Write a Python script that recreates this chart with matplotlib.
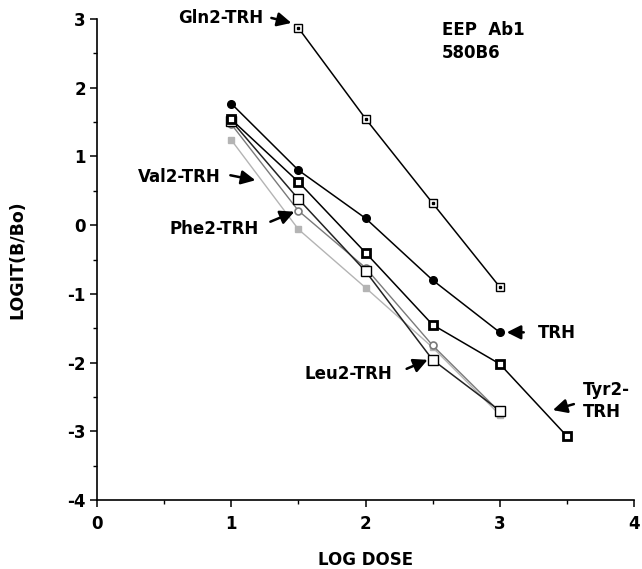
import matplotlib
matplotlib.use("Agg")
import matplotlib.pyplot as plt
from matplotlib.transforms import offset_copy

# data
dose = [1, 1.5, 2, 2.5, 3]
gln_dose = [1.5, 2, 2.5, 3]
tyr_dose = [1, 1.5, 2, 2.5, 3, 3.5]
gln = [2.87, 1.55, 0.32, -0.90]
trh = [1.77, 0.80, 0.10, -0.80, -1.56]
tyr = [1.54, 0.63, -0.40, -1.45, -2.02, -3.07]
leu = [1.52, 0.38, -0.67, -1.96, -2.70]
phe = [1.47, 0.21, -0.62, -1.75, -2.72]
val = [1.24, -0.06, -0.91, -1.78, -2.76]

xticks = [0, 1, 2, 3, 4]
yticks = [-4, -3, -2, -1, 0, 1, 2, 3]

fig = plt.figure(figsize=(6.42, 5.69), dpi=100)
ax = fig.add_axes([97/642, 1-500/569, 537/642, 481/569])

# curves
ax.plot(dose, val, color="#b4b4b4", lw=1.0, marker="s", ms=5, mfc="#b4b4b4", mec="#b4b4b4")
ax.plot(dose, phe, color="#7a7a7a", lw=1.0, marker="o", ms=5, mfc="white", mec="#7a7a7a", mew=1.2)
ax.plot(dose, leu, color="#222222", lw=1.1, marker="s", ms=6.5, mfc="white", mec="black", mew=1.0)
ax.plot(tyr_dose, tyr, color="black", lw=1.1, marker="s", ms=5.5, mfc="white", mec="black", mew=2.0)
ax.plot(dose, trh, color="black", lw=1.1, marker="o", ms=5.5, mfc="black", mec="black")
ax.plot(gln_dose, gln, color="black", lw=1.1, marker="s", ms=6, mfc="white", mec="black", mew=1.0)
ax.plot(gln_dose, gln, ls="none", marker="s", ms=1.5, color="black")

ax.set_xlim(0, 4)
ax.set_ylim(-4, 3)
ax.set_xticks(xticks)
ax.set_yticks(yticks)
ax.set_xticks([0.5, 1.5, 2.5, 3.5], minor=True)
ax.set_yticks([-3.5, -2.5, -1.5, -0.5, 0.5, 1.5, 2.5], minor=True)
ax.set_xticklabels([str(t) for t in xticks], fontsize=12, fontweight="bold")
ax.set_yticklabels([str(t) for t in yticks], fontsize=12, fontweight="bold")
ax.tick_params(which="major", length=5, width=1.1, direction="out")
ax.tick_params(axis="x", which="major", pad=6)
ax.tick_params(axis="y", which="major", pad=3)
ax.tick_params(which="minor", length=3, width=1.0, direction="out")
for s in ["top", "right"]:
    ax.spines[s].set_visible(False)
for s in ["left", "bottom"]:
    ax.spines[s].set_linewidth(1.2)

ax.set_xlabel("LOG DOSE", fontsize=12, fontweight="bold")
ax.xaxis.set_label_coords(0.5, -0.105)
ax.set_ylabel("LOGIT(B/Bo)", fontsize=12.5, fontweight="bold")
ax.yaxis.set_label_coords(-0.132, 0.5)

ax.text(0.642, 0.977, "EEP  Ab1", transform=ax.transAxes, fontsize=12, fontweight="bold", va="center")
ax.text(0.642, 0.929, "580B6", transform=ax.transAxes, fontsize=12, fontweight="bold", va="center")


def shifted(dx, dy):
    # pixel offsets, y measured downward like on the picture
    return offset_copy(ax.transData, fig=fig, x=dx, y=-dy, units="dots")


def note(x, y, s, tx, ty, ha, tail, tip):
    ax.text(x, y, s, transform=shifted(tx, ty), ha=ha, va="center",
            fontsize=12, fontweight="bold", linespacing=1.3)
    ax.annotate("", xy=(x, y), xycoords=shifted(*tip),
                xytext=(x, y), textcoords=shifted(*tail),
                arrowprops=dict(arrowstyle="-|>,head_length=0.7,head_width=0.35",
                                color="black", lw=1.8, mutation_scale=12,
                                shrinkA=0, shrinkB=0))


note(gln_dose[0], gln[0], "Gln2-TRH", -35, -10, "right", (-27, -10), (-7, -5))
note(dose[1], val[1], "Val2-TRH", -78, -52, "right", (-68, -54), (-43, -49))
note(dose[1], phe[1], "Phe2-TRH", -40, 18, "right", (-28, 11), (-4, 1))
note(dose[3], leu[3], "Leu2-TRH", -40, 14, "right", (-26, 9), (-5, 0))
note(dose[4], trh[4], "TRH", 38, 1, "left", (24, 0), (7, 0))
note(tyr_dose[5], tyr[5], "Tyr2-\nTRH", 16, -35, "left", (7, -32), (-14, -26))

fig.savefig("out.png", dpi=100)
